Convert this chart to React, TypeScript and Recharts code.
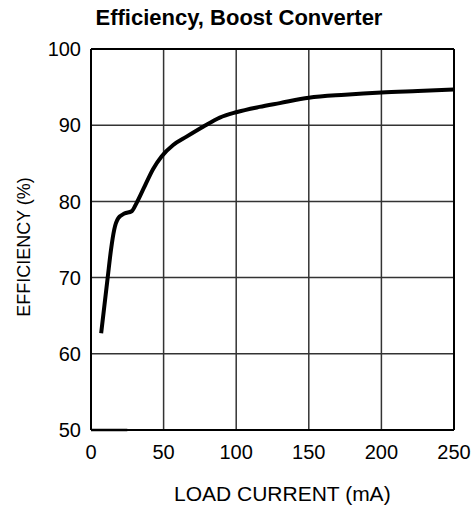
import { LineChart, Line, XAxis, YAxis, CartesianGrid, ReferenceLine } from "recharts";

const loadCurrent = [7, 11.5, 13.8, 16, 18.8, 23, 28, 31.4, 36, 42.9, 48.6, 56.6, 65.8, 77.2, 88.7, 100, 116, 130, 150, 175, 200, 225, 250];
const efficiency = [62.7, 70, 73.7, 76.3, 77.8, 78.4, 78.7, 79.8, 81.6, 84.3, 85.9, 87.4, 88.5, 89.8, 91.0, 91.7, 92.4, 92.9, 93.6, 94.0, 94.3, 94.5, 94.7];

// short stub drawn along the 50% line near the origin
const stubCurrent = [0, 25];
const stubEfficiency = [50, 50];

const xTicks = [0, 50, 100, 150, 200, 250];
const yTicks = [50, 60, 70, 80, 90, 100];

const data = loadCurrent.map((x, i) => ({ x, eff: efficiency[i] }));
const stub = stubCurrent.map((x, i) => ({ x, eff: stubEfficiency[i] }));

const FONT = "'Liberation Sans', Arial, Helvetica, sans-serif";

const App = () => {
  return (
    <div style={{ position: "absolute", left: 0, top: 0, width: 473, height: 506, background: "#fff", fontFamily: FONT, color: "#000" }}>
      <LineChart
        width={473}
        height={506}
        data={data}
        margin={{ top: 49, right: 19, bottom: 40, left: 0 }}
        style={{ fontFamily: FONT }}
      >
        <CartesianGrid stroke="#333" strokeWidth={1.5} />
        <XAxis
          dataKey="x"
          type="number"
          domain={[0, 250]}
          ticks={xTicks}
          tickLine={false}
          axisLine={{ stroke: "#000", strokeWidth: 2 }}
          tick={{ fill: "#000", fontSize: 20 }}
          tickMargin={9}
          height={36}
        />
        <YAxis
          type="number"
          domain={[50, 100]}
          ticks={yTicks}
          tickLine={false}
          axisLine={{ stroke: "#000", strokeWidth: 2 }}
          tick={{ fill: "#000", fontSize: 20 }}
          tickMargin={4}
          width={91}
        />
        <ReferenceLine y={100} stroke="#000" strokeWidth={2} />
        <ReferenceLine x={250} stroke="#000" strokeWidth={2} />
        <Line
          data={stub}
          dataKey="eff"
          type="linear"
          stroke="#000"
          strokeWidth={2.5}
          dot={false}
          isAnimationActive={false}
        />
        <Line
          dataKey="eff"
          type="monotone"
          stroke="#000"
          strokeWidth={4}
          dot={false}
          isAnimationActive={false}
        />
      </LineChart>
      <div
        style={{
          position: "absolute",
          left: 0,
          top: 7,
          width: 478,
          textAlign: "center",
          fontWeight: "bold",
          fontSize: 22,
          lineHeight: 1,
        }}
      >
        Efficiency, Boost Converter
      </div>
      <div
        style={{
          position: "absolute",
          left: 174,
          top: 483,
          width: 200,
          textAlign: "center",
          fontSize: 21,
          lineHeight: 1,
          whiteSpace: "nowrap",
        }}
      >
        LOAD CURRENT (mA)
      </div>
      <div
        style={{
          position: "absolute",
          left: -76,
          top: 235,
          width: 200,
          height: 24,
          lineHeight: "24px",
          textAlign: "center",
          fontSize: 18,
          whiteSpace: "nowrap",
          transform: "rotate(-90deg)",
        }}
      >
        EFFICIENCY (%)
      </div>
    </div>
  );
};

export default App;
